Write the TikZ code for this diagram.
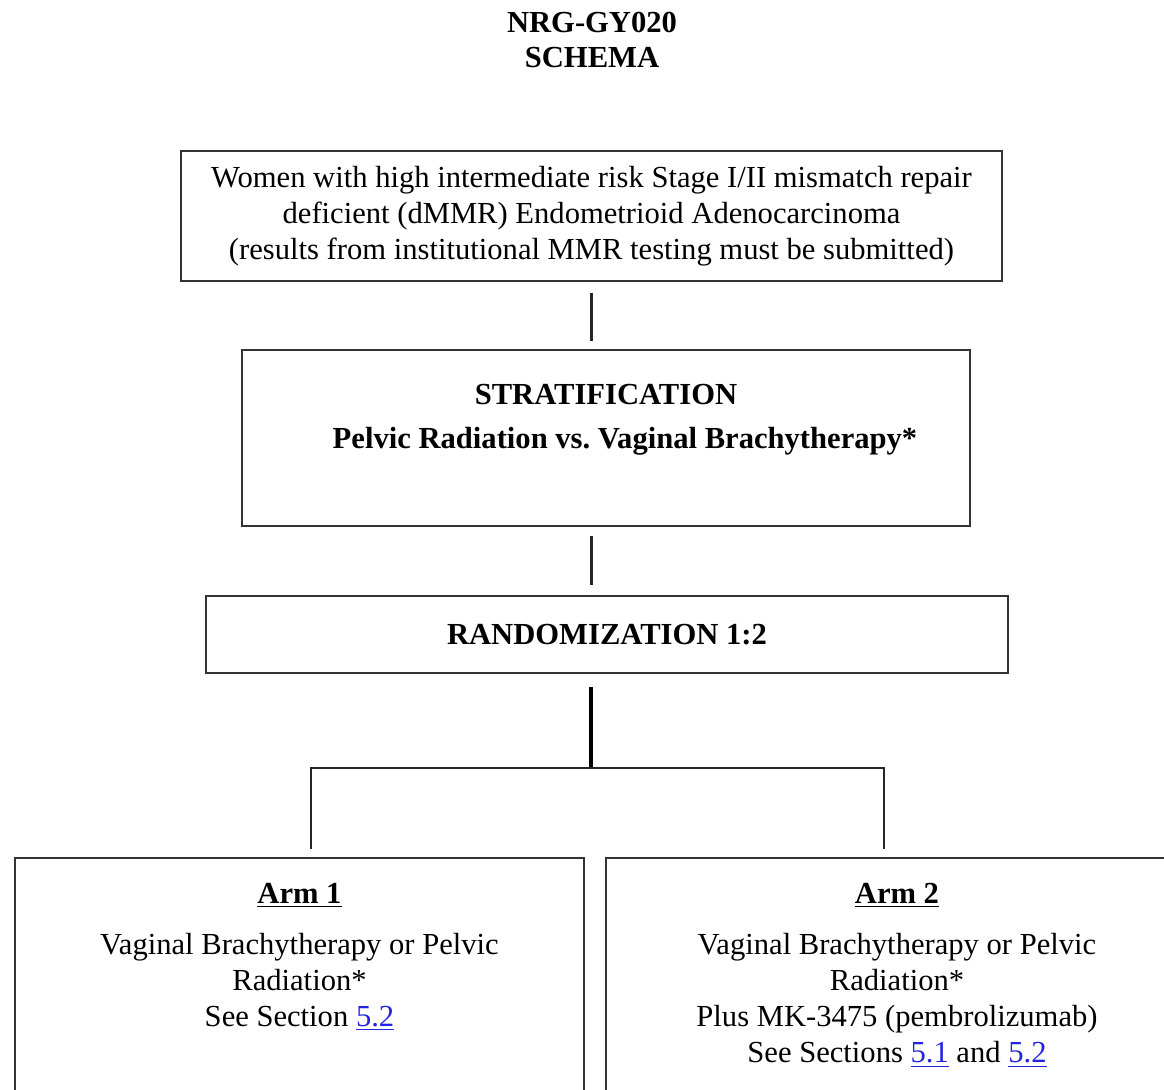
\documentclass[tikz,border=0pt]{standalone}
\usepackage{fontspec}
\setmainfont{Liberation Serif}
\usepackage{xcolor}
\usetikzlibrary{calc, positioning}
\definecolor{linkblue}{RGB}{35,35,225}
\newcommand{\seclink}[1]{\textcolor{linkblue}{\underline{#1}}}
\tikzset{
    box/.style={rectangle, draw=black!80, line width=1pt, fill=white, align=center, inner sep=0pt},
    armtext/.style={align=center, inner sep=0pt},
    bold/.style={font=\fontsize{15.3}{18}\selectfont\bfseries},
    conn/.style={draw=black!85, line width=1.1pt},
    trunk/.style={draw=black, line width=2pt}
}

\begin{document}
\begin{tikzpicture}[x=0.5pt, y=-0.5pt,
        every node/.style={font=\fontsize{15.3}{18}\selectfont}
    ]
    \useasboundingbox (0,0) rectangle (1164,1089);
    \clip (0,0) rectangle (1164,1089);

    % Title
    \node[bold, align=center, font=\fontsize{15.3}{17.5}\selectfont\bfseries] (title) at (592,40) {NRG-GY020\\SCHEMA};

    % Eligibility
    \node[box, minimum width=410.5pt, minimum height=65pt] (elig) at (591.5,216) {Women with high intermediate risk Stage I/II mismatch repair\\deficient (dMMR) Endometrioid Adenocarcinoma\\(results from institutional MMR testing must be submitted)};

    % Stratification
    \node[box, bold, minimum width=364pt, minimum height=88pt] (strat) at (606,438) {STRATIFICATION\\[4pt]\hspace*{19pt}Pelvic Radiation vs.\ Vaginal Brachytherapy*\\[4pt]\mbox{}};

    % Randomization
    \node[box, bold, minimum width=401pt, minimum height=38.5pt] (rand) at (607,634.5) {RANDOMIZATION 1:2};

    % Arms
    \node[box, minimum width=284.5pt, minimum height=130pt, anchor=north west] (arm1) at (14,857) {};
    \node[box, minimum width=291pt, minimum height=130pt, anchor=north west] (arm2) at (605,857) {};
    \node[armtext, below=13pt of arm1.north] (arm1txt) {\underline{\textbf{Arm 1}}\\[7.5pt]Vaginal Brachytherapy or Pelvic\\Radiation*\\See Section \seclink{5.2}};
    \node[armtext, below=13pt of arm2.north] (arm2txt) {\underline{\textbf{Arm 2}}\\[7.5pt]Vaginal Brachytherapy or Pelvic\\Radiation*\\Plus MK-3475 (pembrolizumab)\\See Sections \seclink{5.1} and \seclink{5.2}};

    % Connections
    \coordinate (fork) at (591,768);
    \coordinate (leg1) at (311,768);
    \coordinate (leg2) at (884,768);
    \draw[conn, shorten <=5.5pt, shorten >=4pt] (elig.south) -- (elig.south |- strat.north);
    \draw[conn, shorten <=4.5pt, shorten >=5pt] (strat.south -| elig.south) -- (rand.north -| elig.south);
    \draw[trunk, shorten <=6.5pt] (rand.south -| fork) -- (fork);
    \draw[conn, shorten <=4pt, shorten >=4pt] (arm1.north -| leg1) -- (leg1) -- (leg2) -- (arm2.north -| leg2);

\end{tikzpicture}
\end{document}
